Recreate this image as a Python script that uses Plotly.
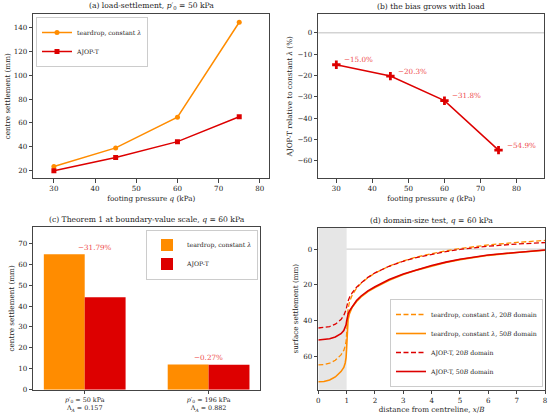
import plotly.graph_objects as go

# (a) load-settlement
q = [30, 45, 60, 75]
s_teardrop = [23.2, 38.9, 64.8, 144.8]
s_ajop = [19.7, 30.8, 44.2, 65.2]

# (b) bias of AJOP-T relative to constant lambda (%)
bias = [-15.0, -20.3, -31.8, -54.9]

# (c) theorem 1 at boundary value scale
groups = ["<i>p</i>′<sub>0</sub> = 50 kPa<br>Λ<sub><i>A</i></sub> = 0.157",
          "<i>p</i>′<sub>0</sub> = 196 kPa<br>Λ<sub><i>A</i></sub> = 0.882"]
bar_teardrop = [64.8, 12.0]
bar_ajop = [44.2, 11.97]
bar_diff = [-31.79, -0.27]

# (d) domain-size test, surface settlement profiles
x_d = [0, 0.2, 0.4, 0.6, 0.8, 0.9, 0.95, 0.98, 1.0, 1.02, 1.05, 1.1, 1.2, 1.35,
       1.5, 1.75, 2.0, 2.5, 3.0, 3.5, 4.0, 4.5, 5.0, 6.0, 7.0, 8.0]
td_20 = [64.6, 64.4, 63.6, 62.0, 59.0, 56.5, 54.0, 51.5, 47.0, 39.0, 33.5, 29.5, 25.5, 21.8,
         19.3, 16.0, 13.4, 9.5, 6.6, 4.3, 2.5, 1.0, -0.3, -2.3, -3.7, -4.8]
td_50 = [74.0, 73.8, 73.0, 71.3, 68.3, 66.0, 63.5, 60.5, 55.0, 45.0, 39.5, 36.0, 32.3, 29.2,
         26.8, 23.7, 21.4, 17.4, 14.2, 11.6, 9.4, 7.5, 5.9, 3.5, 1.9, 0.7]
aj_20 = [44.0, 43.8, 43.2, 41.9, 39.3, 37.0, 35.3, 33.8, 32.4, 30.9, 29.0, 27.0, 24.3, 21.3,
         19.0, 15.8, 13.3, 9.6, 6.8, 4.6, 2.8, 1.4, 0.2, -1.6, -2.8, -3.6]
aj_50 = [50.7, 50.5, 50.0, 49.0, 47.2, 45.4, 43.8, 42.2, 40.2, 38.3, 36.4, 34.4, 31.8, 28.7,
         26.3, 23.3, 21.0, 17.0, 13.9, 11.4, 9.2, 7.3, 5.7, 3.3, 1.7, 0.5]
footing_edge = 1.0

ORANGE = "#ff8c00"
RED = "#dd0000"
LABEL_RED = "#ee4a4a"
FONT = "DejaVu Serif"
W, H = 550, 414

# panel boxes in pixels: left, right, top, bottom
boxes = {
    "a": (33.3, 269.3, 14.3, 178.3),
    "b": (318.3, 544.3, 14.3, 178.3),
    "c": (33.3, 260.0, 227.0, 389.7),
    "d": (318.3, 545.0, 227.7, 389.7),
}


def dom(key):
    l, r, t, b = boxes[key]
    return [l / W, r / W], [1 - b / H, 1 - t / H]


fig = go.Figure()

# (a)
fig.add_trace(go.Scatter(x=q, y=s_teardrop, mode="lines+markers", name="teardrop, constant <i>λ</i>",
                         line=dict(color=ORANGE, width=1.5), marker=dict(symbol="circle", size=5),
                         xaxis="x", yaxis="y", legend="legend"))
fig.add_trace(go.Scatter(x=q, y=s_ajop, mode="lines+markers", name="AJOP-T",
                         line=dict(color=RED, width=1.5), marker=dict(symbol="square", size=5),
                         xaxis="x", yaxis="y", legend="legend"))

# (b)
fig.add_trace(go.Scatter(x=q, y=bias, mode="lines+markers", showlegend=False,
                         line=dict(color=RED, width=1.5), marker=dict(symbol="cross", size=7),
                         xaxis="x2", yaxis="y2"))

# (c)
fig.add_trace(go.Bar(x=[0, 1], y=bar_teardrop, width=0.33, offset=-0.33, name="teardrop, constant <i>λ</i>",
                     marker=dict(color=ORANGE, line=dict(width=0)), xaxis="x3", yaxis="y3", legend="legend2"))
fig.add_trace(go.Bar(x=[0, 1], y=bar_ajop, width=0.33, offset=0, name="AJOP-T",
                     marker=dict(color=RED, line=dict(width=0)), xaxis="x3", yaxis="y3", legend="legend2"))

# (d)
dash = "5px,2.5px"
fig.add_trace(go.Scatter(x=x_d, y=td_20, mode="lines", name="teardrop, constant <i>λ</i>, 20<i>B</i> domain",
                         line=dict(color=ORANGE, width=1.3, dash=dash), xaxis="x4", yaxis="y4", legend="legend3"))
fig.add_trace(go.Scatter(x=x_d, y=td_50, mode="lines", name="teardrop, constant <i>λ</i>, 50<i>B</i> domain",
                         line=dict(color=ORANGE, width=1.6), xaxis="x4", yaxis="y4", legend="legend3"))
fig.add_trace(go.Scatter(x=x_d, y=aj_20, mode="lines", name="AJOP-T, 20<i>B</i> domain",
                         line=dict(color=RED, width=1.3, dash=dash), xaxis="x4", yaxis="y4", legend="legend3"))
fig.add_trace(go.Scatter(x=x_d, y=aj_50, mode="lines", name="AJOP-T, 50<i>B</i> domain",
                         line=dict(color=RED, width=1.6), xaxis="x4", yaxis="y4", legend="legend3"))

axis_style = dict(showline=True, mirror=True, linecolor="#444", linewidth=1, showgrid=False,
                  zeroline=False, ticks="outside", ticklen=3.5, tickwidth=0.8, tickcolor="#444",
                  tickfont=dict(size=7.1), automargin=False)
title_font = dict(size=7.2)

xa, ya = dom("a")
xb, yb = dom("b")
xc, yc = dom("c")
xd, yd = dom("d")

legend_style = dict(bgcolor="rgba(255,255,255,0.85)", bordercolor="#cccccc", borderwidth=1,
                    font=dict(size=6.2), itemwidth=30)

fig.update_layout(
    width=W, height=H, margin=dict(l=0, r=0, t=0, b=0),
    paper_bgcolor="white", plot_bgcolor="white",
    font=dict(family=FONT, size=7.2, color="#222"),
    xaxis=dict(axis_style, domain=xa, anchor="y", range=[25, 82.3], dtick=10,
               title=dict(text="footing pressure <i>q</i> (kPa)", font=title_font, standoff=3)),
    yaxis=dict(axis_style, domain=ya, anchor="x", range=[13.3, 151.5], dtick=20,
               title=dict(text="centre settlement (mm)", font=title_font, standoff=2)),
    xaxis2=dict(axis_style, domain=xb, anchor="y2", range=[25, 87.7], dtick=10,
                title=dict(text="footing pressure <i>q</i> (kPa)", font=title_font, standoff=3)),
    yaxis2=dict(axis_style, domain=yb, anchor="x2", range=[-68.1, 8.6], dtick=10,
                title=dict(text="AJOP-T relative to constant <i>λ</i> (%)", font=title_font, standoff=3)),
    xaxis3=dict(axis_style, domain=xc, anchor="y3", range=[-0.415, 1.415], tickvals=[0, 1],
                ticktext=groups, tickfont=dict(size=6.4)),
    yaxis3=dict(axis_style, domain=yc, anchor="x3", range=[0, 77.8], dtick=10,
                title=dict(text="centre settlement (mm)", font=title_font, standoff=2)),
    xaxis4=dict(axis_style, domain=xd, anchor="y4", range=[0, 8], dtick=1,
                title=dict(text="distance from centreline, <i>x</i>/<i>B</i>", font=title_font, standoff=3)),
    yaxis4=dict(axis_style, domain=yd, anchor="x4", range=[78.4, -11.9], tickvals=[0, 20, 40, 60],
                title=dict(text="surface settlement (mm)", font=title_font, standoff=3)),
    legend=dict(legend_style, x=36 / W, y=1 - 17 / H, xanchor="left", yanchor="top"),
    legend2=dict(legend_style, x=258 / W, y=1 - 229.5 / H, xanchor="right", yanchor="top"),
    legend3=dict(legend_style, x=543 / W, y=1 - 387 / H, xanchor="right", yanchor="bottom"),
    barmode="overlay",
)

# zero lines and footing shading
fig.add_shape(type="line", xref="x2 domain", yref="y2", x0=0, x1=1, y0=0, y1=0,
              line=dict(color="#d3d3d3", width=1.5), layer="below")
fig.add_shape(type="line", xref="x4 domain", yref="y4", x0=0, x1=1, y0=0, y1=0,
              line=dict(color="#d3d3d3", width=1.2), layer="below")
fig.add_shape(type="rect", xref="x4", yref="y4 domain", x0=0, x1=footing_edge, y0=0, y1=1,
              fillcolor="#e6e6e6", line=dict(width=0), layer="below")

# panel titles
titles = {
    "a": "(a) load-settlement, <i>p</i>′<sub>0</sub> = 50 kPa",
    "b": "(b) the bias grows with load",
    "c": "(c) Theorem 1 at boundary-value scale, <i>q</i> = 60 kPa",
    "d": "(d) domain-size test, <i>q</i> = 60 kPa",
}
for key, text in titles.items():
    dx, dy = dom(key)
    fig.add_annotation(text=text, xref="paper", yref="paper", x=(dx[0] + dx[1]) / 2, y=dy[1],
                       xanchor="center", yanchor="bottom", yshift=1, showarrow=False,
                       font=dict(size=7.6))

# bias labels in (b)
for qi, b in zip(q, bias):
    fig.add_annotation(text=f"−{abs(b):.1f}%", x=qi, y=b, xref="x2", yref="y2", xanchor="left",
                       yanchor="middle", xshift=6, yshift=5, showarrow=False,
                       font=dict(size=7.2, color=LABEL_RED))

# difference labels in (c)
label_dx = [10, 0]
for i, (top, d) in enumerate(zip(bar_teardrop, bar_diff)):
    fig.add_annotation(text=f"−{abs(d):.2f}%", x=i, y=top + 3.3, xref="x3", yref="y3",
                       xanchor="center", yanchor="middle", xshift=label_dx[i], showarrow=False,
                       font=dict(size=7.2, color=LABEL_RED))

# the page body has a default margin; drop it so the figure sits at the window corner
fig.write_html("out.html", config={"displayModeBar": False},
               post_script="document.body.style.margin = '0';")
